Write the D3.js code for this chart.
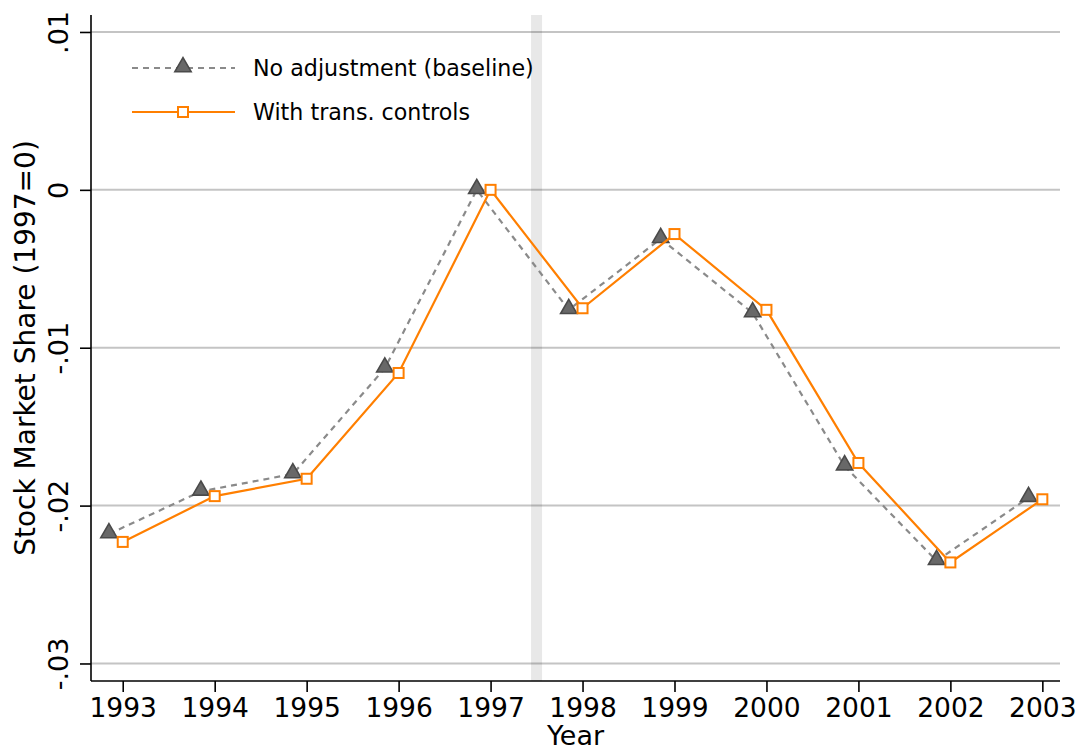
<!DOCTYPE html>
<html>
<head>
<meta charset="utf-8">
<script src="https://cdn.jsdelivr.net/npm/d3@7"></script>
<style>
  html, body { margin: 0; padding: 0; background: #fff; }
  svg { display: block; font-family: "DejaVu Sans", sans-serif; }
</style>
</head>
<body>
<svg id="chart" width="1080" height="749"></svg>
<script>
// ---- Data ----
const years = [1993, 1994, 1995, 1996, 1997, 1998, 1999, 2000, 2001, 2002, 2003];
const baseline = [-0.0218, -0.0191, -0.0180, -0.0113, 0.0000, -0.0076, -0.0031, -0.0078, -0.0175, -0.0235, -0.0195];
const transControls = [-0.0223, -0.0194, -0.0183, -0.0116, 0.0000, -0.0075, -0.0028, -0.0076, -0.0173, -0.0236, -0.0196];
const yTicks = [0.01, 0, -0.01, -0.02, -0.03];
const yTickLabels = [".01", "0", "-.01", "-.02", "-.03"];
const seriesNames = ["No adjustment (baseline)", "With trans. controls"];
const baselineOffset = -0.15;   // horizontal dodge of baseline markers (years)
const eventYear = 1997.5;       // shaded vertical band

(function () {
// ---- Layout ----
const svg = d3.select("#chart");
const mLeft = 91, mRight = 1060, mTop = 15, mBottom = 681;

const x = d3.scaleLinear().domain([1992.655, 2003.192]).range([mLeft, mRight]);
const y = d3.scaleLinear().domain([-0.03111, 0.011075]).range([mBottom, mTop]);

const orange = "#ff7f00";
const grayLine = "#8a8a8a";
const font = "DejaVu Sans";

// gridlines
svg.append("g").selectAll("line").data(yTicks).join("line")
  .attr("x1", mLeft).attr("x2", mRight)
  .attr("y1", d => y(d)).attr("y2", d => y(d))
  .attr("stroke", "#c4c4c4").attr("stroke-width", 2);

// shaded band
svg.append("rect")
  .attr("x", x(eventYear - 0.06)).attr("width", x(eventYear + 0.06) - x(eventYear - 0.06))
  .attr("y", mTop).attr("height", mBottom - mTop)
  .attr("fill", "rgba(0,0,0,0.09)");

// axes
const yAxis = d3.axisLeft(y).tickValues(yTicks).tickSize(11).tickPadding(0)
  .tickFormat((d, i) => yTickLabels[i]);
const gy = svg.append("g").attr("transform", `translate(${mLeft},0)`).call(yAxis);
gy.select(".domain").attr("d", `M0,${mTop}V${mBottom}`).attr("stroke", "#000").attr("stroke-width", 1.6);
gy.selectAll(".tick line").attr("stroke", "#000").attr("stroke-width", 1.6);
gy.selectAll(".tick text")
  .attr("font-family", font).attr("font-size", 27).attr("fill", "#000")
  .attr("x", null).attr("dy", null)
  .attr("text-anchor", "middle")
  .attr("transform", "translate(-23,0) rotate(-90)");

const xAxis = d3.axisBottom(x).tickValues(years).tickSize(11).tickPadding(6)
  .tickFormat(d3.format("d"));
const gx = svg.append("g").attr("transform", `translate(0,${mBottom})`).call(xAxis);
gx.select(".domain").attr("d", `M${mLeft},0H${mRight}`).attr("stroke", "#000").attr("stroke-width", 1.6);
gx.selectAll(".tick line").attr("stroke", "#000").attr("stroke-width", 1.6);
gx.selectAll(".tick text")
  .attr("font-family", font).attr("font-size", 26.5).attr("fill", "#000");

// axis titles
svg.append("text")
  .attr("transform", `translate(35,348) rotate(-90)`)
  .attr("text-anchor", "middle")
  .attr("font-family", font).attr("font-size", 28).attr("fill", "#000")
  .text("Stock Market Share (1997=0)");
svg.append("text")
  .attr("x", (mLeft + mRight) / 2).attr("y", 745)
  .attr("text-anchor", "middle")
  .attr("font-family", font).attr("font-size", 27).attr("fill", "#000")
  .text("Year");

// series
const baseData = years.map((yr, i) => ({ x: yr + baselineOffset, y: baseline[i] }));
const ctrlData = years.map((yr, i) => ({ x: yr, y: transControls[i] }));
const line = d3.line().x(d => x(d.x)).y(d => y(d.y));

svg.append("path").datum(baseData).attr("d", line)
  .attr("fill", "none").attr("stroke", grayLine).attr("stroke-width", 2.2)
  .attr("stroke-dasharray", "6,5");

const tri = d3.symbol().type(d3.symbolTriangle).size(115);
svg.append("g").selectAll("path").data(baseData).join("path")
  .attr("d", tri)
  .attr("transform", d => `translate(${x(d.x)},${y(d.y) - 1})`)
  .attr("fill", "#686868").attr("stroke", "#4a4a4a").attr("stroke-width", 1.6);

svg.append("path").datum(ctrlData).attr("d", line)
  .attr("fill", "none").attr("stroke", orange).attr("stroke-width", 2.2);

svg.append("g").selectAll("rect").data(ctrlData).join("rect")
  .attr("x", d => x(d.x) - 5).attr("y", d => y(d.y) - 5)
  .attr("width", 10).attr("height", 10)
  .attr("fill", "#fff").attr("stroke", orange).attr("stroke-width", 2);

// legend
const lg = svg.append("g");
lg.append("line").attr("x1", 132).attr("x2", 235).attr("y1", 68).attr("y2", 68)
  .attr("stroke", grayLine).attr("stroke-width", 2.2).attr("stroke-dasharray", "6,5");
lg.append("path").attr("d", tri).attr("transform", "translate(183,67)")
  .attr("fill", "#686868").attr("stroke", "#4a4a4a").attr("stroke-width", 1.6);
lg.append("text").attr("x", 253).attr("y", 76)
  .attr("font-family", font).attr("font-size", 22.2).attr("fill", "#000")
  .text(seriesNames[0]);

lg.append("line").attr("x1", 132).attr("x2", 235).attr("y1", 112).attr("y2", 112)
  .attr("stroke", orange).attr("stroke-width", 2.2);
lg.append("rect").attr("x", 178).attr("y", 107).attr("width", 10).attr("height", 10)
  .attr("fill", "#fff").attr("stroke", orange).attr("stroke-width", 2);
lg.append("text").attr("x", 253).attr("y", 120)
  .attr("font-family", font).attr("font-size", 22.2).attr("fill", "#000")
  .text(seriesNames[1]);
})();
</script>
</body>
</html>
